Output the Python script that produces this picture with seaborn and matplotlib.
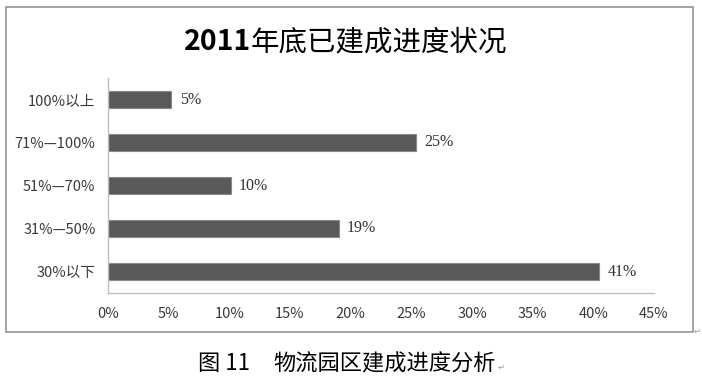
import matplotlib
matplotlib.use("Agg")
import matplotlib.pyplot as plt
import matplotlib.patches as patches
import seaborn as sns
import pandas as pd

categories = ["100%以上", "71%—100%", "51%—70%", "31%—50%", "30%以下"]
values = [5.2, 25.4, 10.1, 19.0, 40.5]
value_labels = ["5%", "25%", "10%", "19%", "41%"]
x_ticks = [0, 5, 10, 15, 20, 25, 30, 35, 40, 45]

sns.set_style("white")
plt.rcParams['font.family'] = ['Noto Sans CJK SC', 'DejaVu Sans']

data = pd.DataFrame({'range': categories, 'share': values})

fig = plt.figure(figsize=(7.02, 3.8), dpi=100)
ax = fig.add_axes([108 / 702, 1 - 293 / 380, 546 / 702, 215 / 380])

sns.barplot(data=data, x='share', y='range', order=categories, orient='h',
            color='#595959', saturation=1, width=0.39,
            edgecolor='#8a8a8a', linewidth=0.8, ax=ax)

for i, (v, lab) in enumerate(zip(values, value_labels)):
    ax.text(v + 0.7, i, lab, va='center', ha='left', fontsize=11.5,
            family='Liberation Serif', color='#333333')

ax.set_xlim(0, 45)
ax.set_ylim(4.5, -0.5)
ax.set_xticks(x_ticks)
ax.set_xticklabels([f"{t}%" for t in x_ticks])
ax.set_xlabel('')
ax.set_ylabel('')
ax.tick_params(axis='x', length=0, pad=10, labelsize=10.5, labelcolor='#3a3a3a')
ax.tick_params(axis='y', length=0, pad=9, labelsize=10.5, labelcolor='#3a3a3a')
for s in ['top', 'right']:
    ax.spines[s].set_visible(False)
for s in ['left', 'bottom']:
    ax.spines[s].set_color('#bfbfbf')
    ax.spines[s].set_linewidth(1.0)

# title: bold year, regular rest
fig.text(251 / 702, 1 - 42 / 380, "2011", ha='right', va='center',
         fontsize=20.5, fontweight='bold', color='black')
fig.text(251 / 702, 1 - 42 / 380, "年底已建成进度状况", ha='left', va='center',
         fontsize=20.5, color='black')

# chart border
fig.patches.append(patches.Rectangle((6 / 702, 1 - 332 / 380), 686.5 / 702, 325 / 380,
                                     transform=fig.transFigure, fill=False,
                                     edgecolor='#8c8c8c', linewidth=1.1))
fig.text(694 / 702, 1 - 331 / 380, "↵", ha='left', va='center', fontsize=6,
         family='DejaVu Sans', color='#999999')

# caption
fig.text(198 / 702, 1 - 364 / 380, "图 11", ha='left', va='center',
         fontsize=16, color='black')
fig.text(273 / 702, 1 - 364 / 380, "物流园区建成进度分析", ha='left', va='center',
         fontsize=16, color='black')
fig.text(498 / 702, 1 - 367 / 380, "↵", ha='left', va='center', fontsize=6,
         family='DejaVu Sans', color='#999999')

fig.savefig("out.png", dpi=100)
